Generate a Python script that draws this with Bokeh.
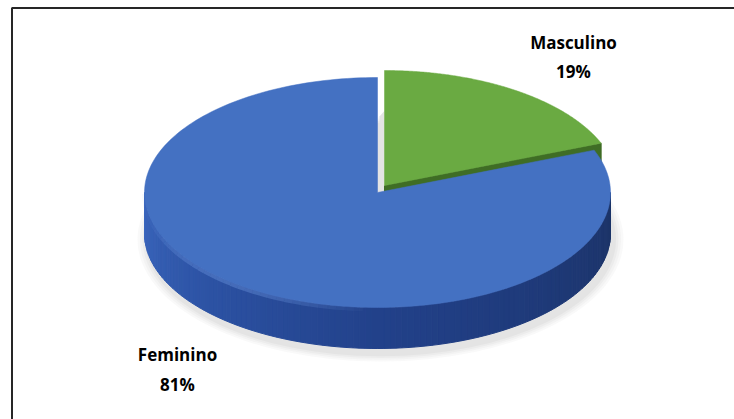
import numpy as np
from bokeh.plotting import figure
from bokeh.models import Range1d
from bokeh.core.properties import value
from bokeh.embed import file_html
from bokeh.resources import INLINE

# ---- data ----
categories = ["Masculino", "Feminino"]
percent = [19, 81]
colors_top = ["#6aaa42", "#4471c2"]

# ---- layout (pixels) ----
W, H = 734, 419
cx, cy = 377.0, 192.0
rx, ry = 233.0, 115.0
depth = 41.0
explode = [(7.0, -7.0), (0.0, 0.0)]

p = figure(width=W, height=H, x_range=Range1d(0, W), y_range=Range1d(H, 0),
           output_backend="svg", toolbar_location=None, min_border=0)
p.axis.visible = False
p.grid.visible = False
p.outline_line_color = None
p.background_fill_color = "white"

def pt(theta, ox=0.0, oy=0.0, dz=0.0):
    return cx + ox + rx * np.sin(theta), cy + oy - ry * np.cos(theta) + dz

total = float(sum(percent))
starts, ends = [], []
a = 0.0
for v in percent:
    starts.append(a)
    a += 2 * np.pi * v / total
    ends.append(a)

# shadow
for k, al in enumerate([0.05, 0.05, 0.06, 0.07]):
    grow = 10 - 2.5 * k
    p.ellipse(x=[cx + 3], y=[cy + depth + 6], width=[2 * rx + grow * 2],
              height=[2 * ry + grow * 1.4], fill_color="#808080", fill_alpha=al,
              line_color=None)

# green cut face (exploded slice) - dark green
ox, oy = explode[0]
t = ends[0]
tx, ty = pt(t, ox, oy)
p.patch(x=[cx + ox, tx, tx, cx + ox], y=[cy + oy, ty, ty + depth, cy + oy + depth],
        fill_color="#3f6d25", line_color="#3f6d25")
# green left cut face (light gray, seen in perspective)
p.patch(x=[cx + ox, cx + ox, cx + ox - 5, cx + ox - 5],
        y=[cy + oy - ry * 0.65, cy + oy, cy + oy + 4, cy + oy - ry * 0.6],
        fill_color="#e4e4e4", line_color=None)

# blue side, visible front part
def lerp_col(c1, c2, f):
    c1 = [int(c1[i:i + 2], 16) for i in (1, 3, 5)]
    c2 = [int(c2[i:i + 2], 16) for i in (1, 3, 5)]
    return "#%02x%02x%02x" % tuple(int(round(c1[j] + (c2[j] - c1[j]) * f)) for j in range(3))

stops = [(np.pi / 2, "#1c3366"), (np.pi * 0.8, "#1f3b7c"), (np.pi, "#22418a"),
         (np.pi * 1.25, "#2c52a3"), (np.pi * 1.5, "#3b66bd")]
def side_color(th):
    for i in range(len(stops) - 1):
        a0, c0 = stops[i]
        a1, c1 = stops[i + 1]
        if a0 <= th <= a1:
            return lerp_col(c0, c1, (th - a0) / (a1 - a0))
    return stops[-1][1]

s0 = max(starts[1], np.pi / 2)
s1 = min(ends[1], 1.5 * np.pi)
n = 120
th = np.linspace(s0, s1, n + 1)
xs, ys, cols = [], [], []
for i in range(n):
    x0, y0 = pt(th[i])
    x1, y1 = pt(th[i + 1])
    xs.append([x0, x1, x1, x0])
    ys.append([y0, y1, y1 + depth, y0 + depth])
    cols.append(side_color(0.5 * (th[i] + th[i + 1])))
p.patches(xs=xs, ys=ys, fill_color=cols, line_color=cols, line_width=1)

# soft rim highlight on blue front edge
hl = np.linspace(np.pi * 1.02, np.pi * 1.5, 40)
mx, my, ma = [], [], []
for i in range(len(hl) - 1):
    x0, y0 = pt(hl[i], 0, 0, 1.5)
    x1, y1 = pt(hl[i + 1], 0, 0, 1.5)
    mx.append([x0, x1]); my.append([y0, y1])
    f = (hl[i] - hl[0]) / (hl[-1] - hl[0])
    ma.append(0.35 * np.sin(np.pi * min(1.0, f * 1.2)) + 0.05)
p.multi_line(xs=mx, ys=my, line_color="#6f98e0", line_alpha=ma, line_width=5)

# top faces: blue then green
for idx in [1, 0]:
    ox, oy = explode[idx]
    tt = np.linspace(starts[idx], ends[idx], 200)
    px, py = pt(tt, ox, oy)
    xx = np.concatenate([[cx + ox], px])
    yy = np.concatenate([[cy + oy], py])
    p.patch(x=xx, y=yy, fill_color=colors_top[idx], line_color=colors_top[idx], line_width=0.5)

# frame
p.quad(left=[11.5], right=[W + 10], top=[7.5], bottom=[H + 10], fill_color=None,
       line_color="#262626", line_width=2)

# labels
label_pos = [(573, 42, 71), (177, 354, 384)]
for i, cat in enumerate(categories):
    lx, ly1, ly2 = label_pos[i]
    p.text(x=[lx], y=[ly1], text=[cat], text_font=value("Open Sans"), text_font_style="bold",
           text_font_size="17px", text_align="center", text_baseline="middle", text_color="#000000")
    p.text(x=[lx], y=[ly2], text=["%d%%" % percent[i]], text_font=value("Open Sans"),
           text_font_style="bold", text_font_size="17px", text_align="center",
           text_baseline="middle", text_color="#000000")

open("out.html", "w").write(file_html(p, INLINE))
